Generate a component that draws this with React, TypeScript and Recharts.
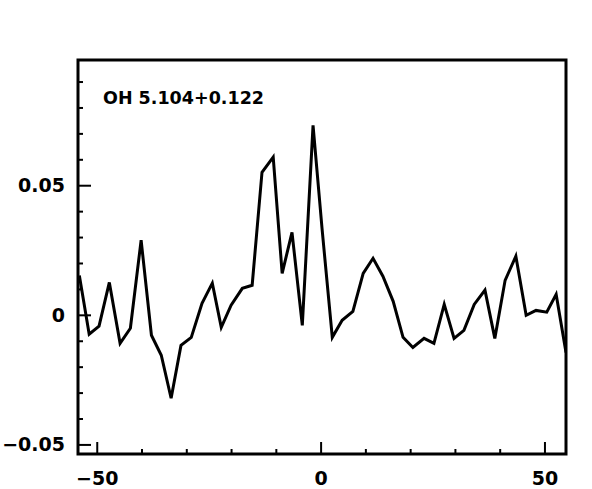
import { LineChart, Line, XAxis, YAxis, ReferenceArea } from 'recharts';

// velocity channels (km/s) and line intensity
const velocity = [
  -54.0, -51.8, -49.6, -47.3, -44.9, -42.6, -40.2, -37.9, -35.7, -33.5,
  -31.3, -29.0, -26.6, -24.3, -22.3, -20.1, -17.6, -15.4, -13.2, -10.7,
  -8.7, -6.5, -4.2, -1.8, 0.2, 2.5, 4.7, 7.1, 9.4, 11.6,
  13.8, 16.1, 18.3, 20.5, 23.0, 25.2, 27.5, 29.7, 31.9, 34.2,
  36.6, 38.8, 41.1, 43.5, 45.8, 48.0, 50.4, 52.5, 54.7,
];
const intensity = [
  0.0154, -0.0073, -0.0042, 0.0127, -0.0108, -0.005, 0.029, -0.0077, -0.0154, -0.032,
  -0.0116, -0.0085, 0.0046, 0.0124, -0.0046, 0.0039, 0.0104, 0.0116, 0.0552, 0.061,
  0.0162, 0.032, -0.0039, 0.0733, 0.0336, -0.0085, -0.0019, 0.0015, 0.0162, 0.022,
  0.0151, 0.0054, -0.0085, -0.0124, -0.0089, -0.0108, 0.0042, -0.0089, -0.0058, 0.0042,
  0.0097, -0.0089, 0.0135, 0.0228, 0.0, 0.0019, 0.0012, 0.0081, -0.0143,
];

const xTicks = [-50, -40, -30, -20, -10, 0, 10, 20, 30, 40, 50];
const xMajor = [-50, 0, 50];
const yTicks = [-0.05, -0.04, -0.03, -0.02, -0.01, 0, 0.01, 0.02, 0.03, 0.04, 0.05, 0.06, 0.07, 0.08, 0.09];
const yMajor = ['-0.05', '0', '0.05'];
const title = 'OH 5.104+0.122';

const X_DOMAIN: [number, number] = [-54.3, 54.7];
const Y_DOMAIN: [number, number] = [-0.0535, 0.0985];

const data = velocity.map((v, i) => ({ v, t: intensity[i] }));

const FONT = '"DejaVu Sans", sans-serif';

const fmtY = (v: number) => (Math.abs(v) < 1e-9 ? '0' : v < 0 ? '-' + Math.abs(v).toFixed(2) : v.toFixed(2));
// long dash for minus, like the original plot
const show = (s: string) => s.replace('-', '\u2212');

function XTick(props: any) {
  const { x, y, payload } = props;
  const major = xMajor.includes(payload.value);
  return (
    <g>
      <line x1={x} y1={y} x2={x} y2={y - (major ? 12 : 5)} stroke="#000" strokeWidth={2} />
      {major && (
        <text x={x} y={y + 25} textAnchor="middle" dominantBaseline="middle" fontFamily={FONT} fontWeight="bold" fontSize={19} fill="#000">
          {show(String(payload.value))}
        </text>
      )}
    </g>
  );
}

function YTick(props: any) {
  const { x, y, payload } = props;
  const label = fmtY(payload.value);
  const major = yMajor.includes(label);
  return (
    <g>
      <line x1={x} y1={y} x2={x + (major ? 13 : 5)} y2={y} stroke="#000" strokeWidth={2} />
      {major && (
        <text x={x - 13} y={y + 1} textAnchor="end" dominantBaseline="middle" fontFamily={FONT} fontWeight="bold" fontSize={19} fill="#000">
          {show(label)}
        </text>
      )}
    </g>
  );
}

export default function App() {
  return (
    <div style={{ position: 'absolute', left: 0, top: 0, width: 592, height: 489, background: '#fff' }}>
      <LineChart width={592} height={489} data={data} margin={{ top: 60, right: 26, bottom: 0, left: 0 }}>
        <XAxis
          dataKey="v"
          type="number"
          domain={X_DOMAIN}
          allowDataOverflow
          ticks={xTicks}
          interval={0}
          height={35}
          axisLine={false}
          tickLine={false}
          tickSize={0}
          tickMargin={0}
          tick={<XTick />}
        />
        <YAxis
          type="number"
          domain={Y_DOMAIN}
          allowDataOverflow
          ticks={yTicks}
          interval={0}
          width={78}
          axisLine={false}
          tickLine={false}
          tickSize={0}
          tickMargin={0}
          tick={<YTick />}
        />
        <Line dataKey="t" type="linear" stroke="#000" strokeWidth={3} dot={false} isAnimationActive={false} />
        <ReferenceArea
          x1={X_DOMAIN[0]}
          x2={X_DOMAIN[1]}
          y1={Y_DOMAIN[0]}
          y2={Y_DOMAIN[1]}
          fill="none"
          stroke="#000"
          strokeWidth={3}
          ifOverflow="visible"
        />
      </LineChart>
      <div
        style={{
          position: 'absolute',
          left: 103,
          top: 86,
          fontFamily: FONT,
          fontWeight: 'bold',
          fontSize: 17.5,
          lineHeight: '24px',
          whiteSpace: 'nowrap',
        }}
      >
        {title}
      </div>
    </div>
  );
}
